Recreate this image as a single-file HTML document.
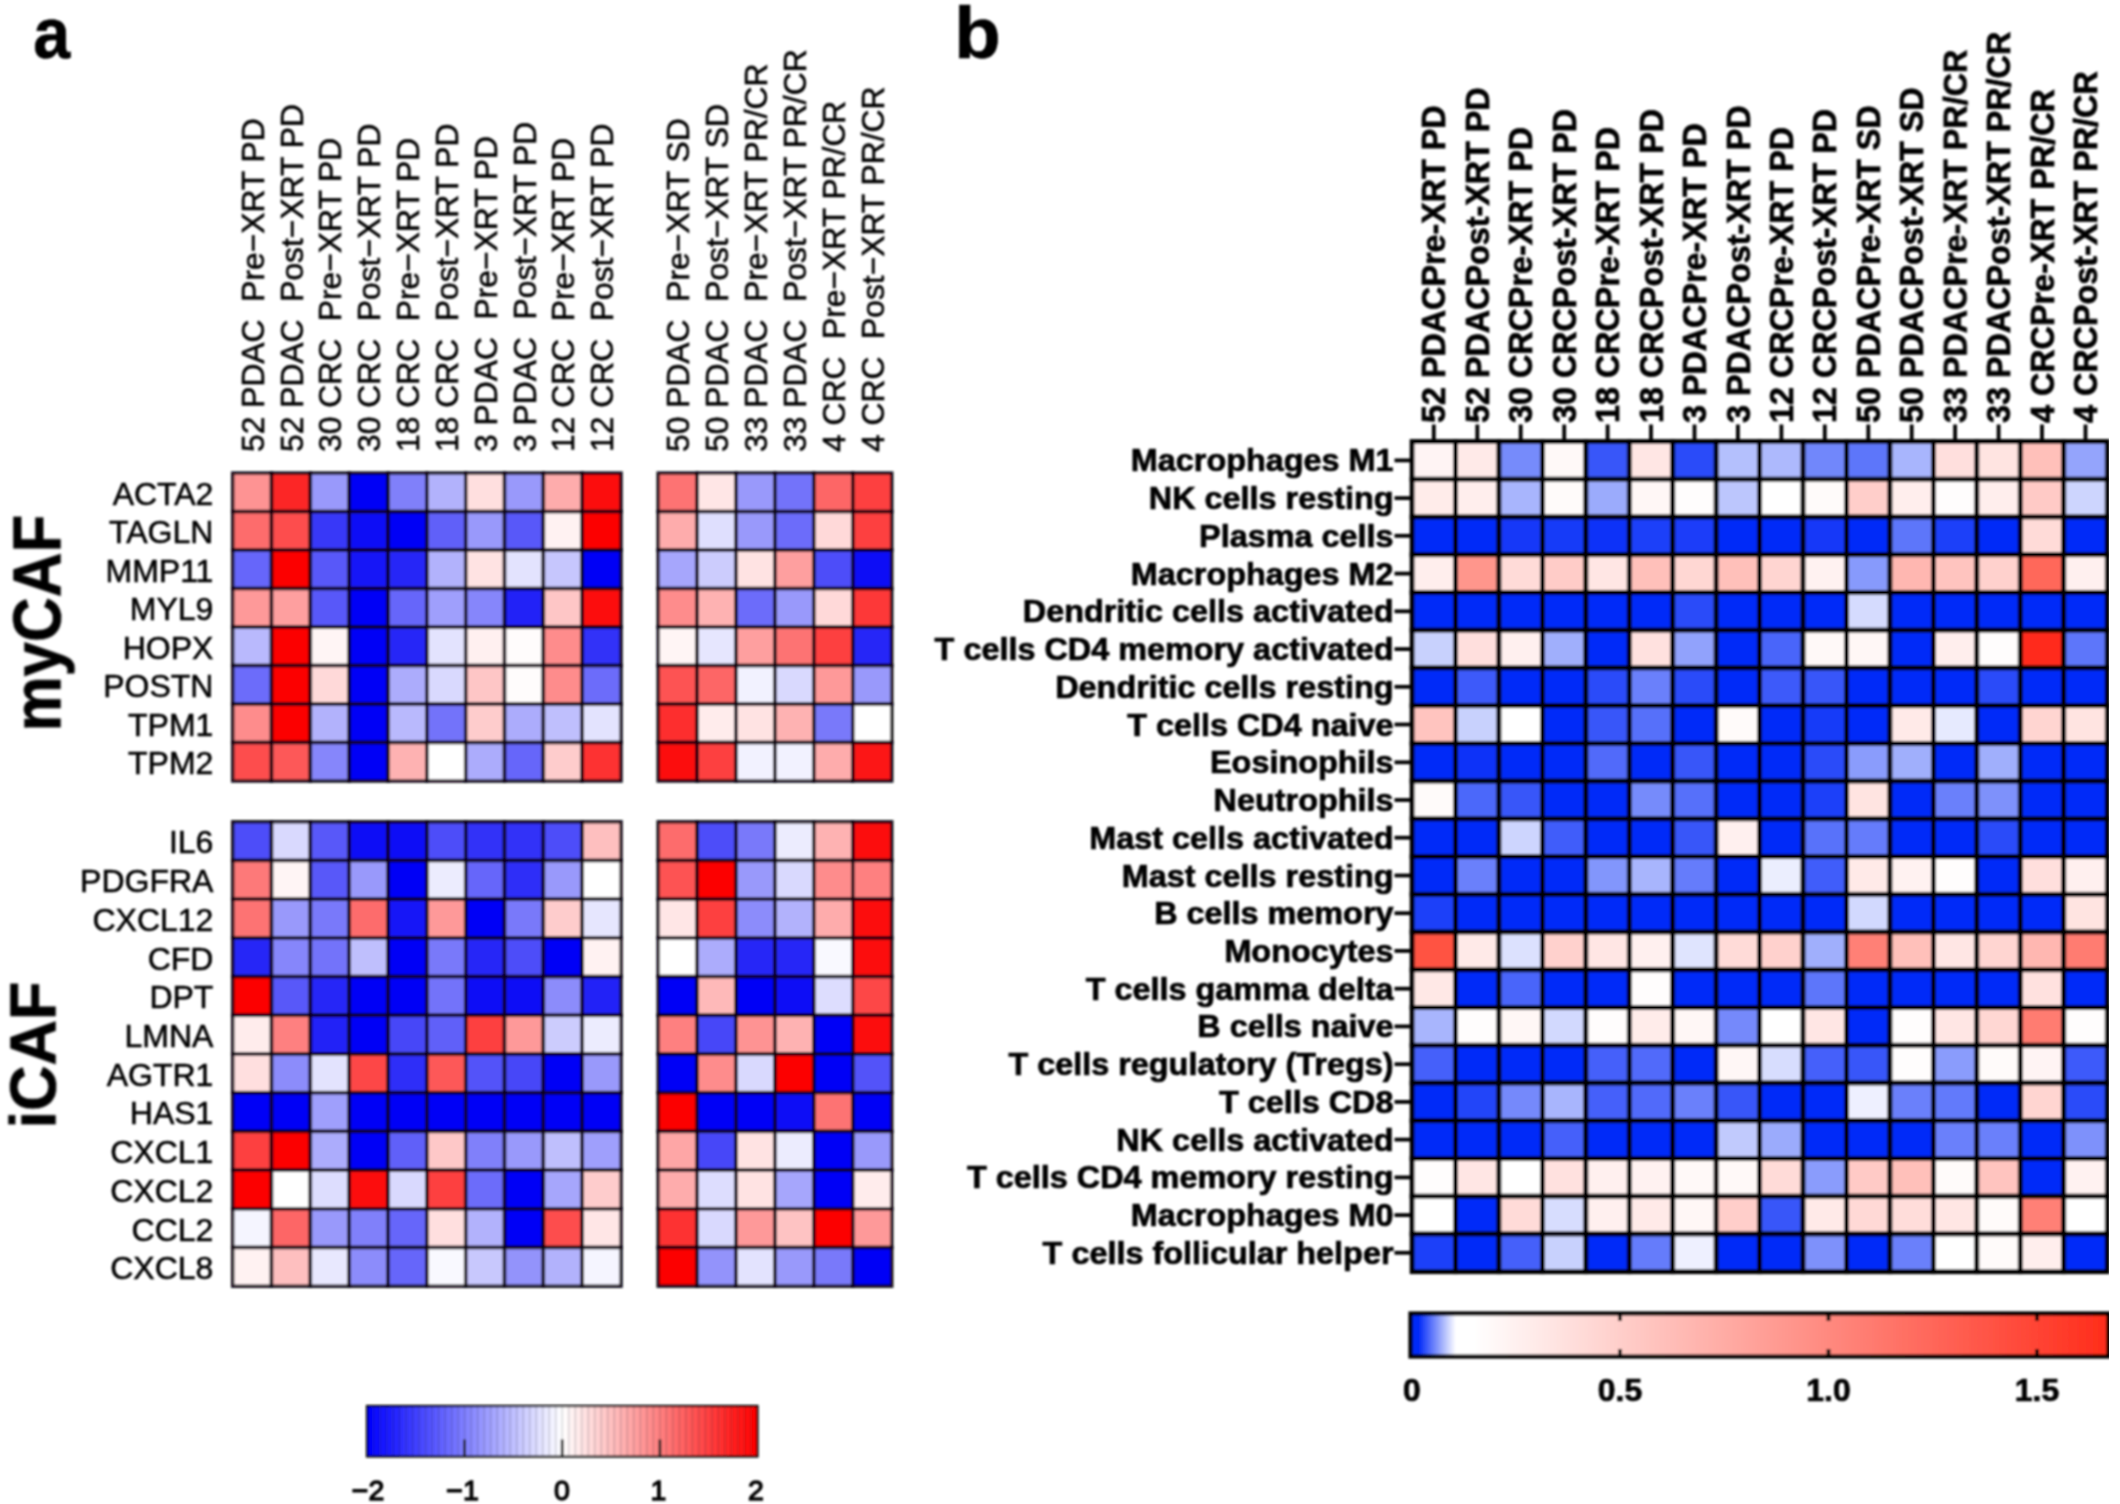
<!DOCTYPE html>
<html lang="en"><head><meta charset="utf-8"><title>Figure</title>
<style>html,body{margin:0;padding:0;background:#fff}body{width:2120px;height:1504px;overflow:hidden}svg{display:block}text{white-space:pre;font-family:"Liberation Sans",Arial,Helvetica,sans-serif;fill:#000}.b{font-weight:bold}.ga rect{stroke:#08000c;stroke-width:3.5;stroke-opacity:0.9}.gb rect{stroke:#000;stroke-width:4.8}text{stroke:#000;stroke-width:0.55}.b{stroke-width:0.7}</style></head><body>
<svg width="2120" height="1504" viewBox="0 0 2120 1504">
<rect x="0" y="0" width="2120" height="1504" fill="#fff"/>
<defs><filter id="bl" x="0" y="0" width="1" height="1"><feGaussianBlur stdDeviation="1.1"/></filter>
<linearGradient id="ga" x1="0" x2="1" y1="0" y2="0"><stop offset="0" stop-color="#0000ff"/><stop offset="0.5" stop-color="#ffffff"/><stop offset="1" stop-color="#ff0000"/></linearGradient>
<linearGradient id="gb" x1="0" x2="1" y1="0" y2="0"><stop offset="0" stop-color="#062cf8"/><stop offset="0.012" stop-color="#062cf8"/><stop offset="0.065" stop-color="#ffffff"/><stop offset="0.09" stop-color="#ffffff"/><stop offset="1" stop-color="#ff2c1a"/></linearGradient>
</defs>
<g filter="url(#bl)">
<text class="b" transform="translate(33.3,58.3) scale(0.875,0.945)" font-size="76">a</text>
<text class="b" transform="translate(954.2,58.2) scale(1,0.95)" font-size="76">b</text>
<g class="ga">
<rect x="232.70" y="473.10" width="38.84" height="38.49" fill="#fe9393"/>
<rect x="271.53" y="473.10" width="38.84" height="38.49" fill="#fc2626"/>
<rect x="310.37" y="473.10" width="38.84" height="38.49" fill="#9999fb"/>
<rect x="349.20" y="473.10" width="38.84" height="38.49" fill="#0000f6"/>
<rect x="388.04" y="473.10" width="38.84" height="38.49" fill="#8080fa"/>
<rect x="426.88" y="473.10" width="38.84" height="38.49" fill="#b2b2fc"/>
<rect x="465.71" y="473.10" width="38.84" height="38.49" fill="#ffdfdf"/>
<rect x="504.55" y="473.10" width="38.84" height="38.49" fill="#9999fb"/>
<rect x="543.38" y="473.10" width="38.84" height="38.49" fill="#feacac"/>
<rect x="582.21" y="473.10" width="38.84" height="38.49" fill="#fc0d0d"/>
<rect x="658.20" y="473.10" width="38.92" height="38.49" fill="#fd7373"/>
<rect x="697.12" y="473.10" width="38.92" height="38.49" fill="#ffe6e6"/>
<rect x="736.04" y="473.10" width="38.92" height="38.49" fill="#9999fb"/>
<rect x="774.96" y="473.10" width="38.92" height="38.49" fill="#7373fa"/>
<rect x="813.88" y="473.10" width="38.92" height="38.49" fill="#fd6666"/>
<rect x="852.80" y="473.10" width="38.92" height="38.49" fill="#fd4040"/>
<rect x="232.70" y="511.59" width="38.84" height="38.49" fill="#fd6c6c"/>
<rect x="271.53" y="511.59" width="38.84" height="38.49" fill="#fd4d4d"/>
<rect x="310.37" y="511.59" width="38.84" height="38.49" fill="#3939f8"/>
<rect x="349.20" y="511.59" width="38.84" height="38.49" fill="#0d0df6"/>
<rect x="388.04" y="511.59" width="38.84" height="38.49" fill="#0606f6"/>
<rect x="426.88" y="511.59" width="38.84" height="38.49" fill="#6060f9"/>
<rect x="465.71" y="511.59" width="38.84" height="38.49" fill="#9999fb"/>
<rect x="504.55" y="511.59" width="38.84" height="38.49" fill="#5959f9"/>
<rect x="543.38" y="511.59" width="38.84" height="38.49" fill="#fff2f2"/>
<rect x="582.21" y="511.59" width="38.84" height="38.49" fill="#fc0606"/>
<rect x="658.20" y="511.59" width="38.92" height="38.49" fill="#feacac"/>
<rect x="697.12" y="511.59" width="38.92" height="38.49" fill="#dfdffe"/>
<rect x="736.04" y="511.59" width="38.92" height="38.49" fill="#9999fb"/>
<rect x="774.96" y="511.59" width="38.92" height="38.49" fill="#6c6cfa"/>
<rect x="813.88" y="511.59" width="38.92" height="38.49" fill="#ffd9d9"/>
<rect x="852.80" y="511.59" width="38.92" height="38.49" fill="#fd4040"/>
<rect x="232.70" y="550.08" width="38.84" height="38.49" fill="#6666fa"/>
<rect x="271.53" y="550.08" width="38.84" height="38.49" fill="#fc0000"/>
<rect x="310.37" y="550.08" width="38.84" height="38.49" fill="#5959f9"/>
<rect x="349.20" y="550.08" width="38.84" height="38.49" fill="#1919f7"/>
<rect x="388.04" y="550.08" width="38.84" height="38.49" fill="#2626f7"/>
<rect x="426.88" y="550.08" width="38.84" height="38.49" fill="#b2b2fc"/>
<rect x="465.71" y="550.08" width="38.84" height="38.49" fill="#ffe3e3"/>
<rect x="504.55" y="550.08" width="38.84" height="38.49" fill="#e3e3fe"/>
<rect x="543.38" y="550.08" width="38.84" height="38.49" fill="#c6c6fd"/>
<rect x="582.21" y="550.08" width="38.84" height="38.49" fill="#0000f6"/>
<rect x="658.20" y="550.08" width="38.92" height="38.49" fill="#a6a6fc"/>
<rect x="697.12" y="550.08" width="38.92" height="38.49" fill="#ccccfd"/>
<rect x="736.04" y="550.08" width="38.92" height="38.49" fill="#ffe3e3"/>
<rect x="774.96" y="550.08" width="38.92" height="38.49" fill="#fe9f9f"/>
<rect x="813.88" y="550.08" width="38.92" height="38.49" fill="#4d4df9"/>
<rect x="852.80" y="550.08" width="38.92" height="38.49" fill="#0d0df6"/>
<rect x="232.70" y="588.57" width="38.84" height="38.49" fill="#fe9999"/>
<rect x="271.53" y="588.57" width="38.84" height="38.49" fill="#fe9f9f"/>
<rect x="310.37" y="588.57" width="38.84" height="38.49" fill="#5959f9"/>
<rect x="349.20" y="588.57" width="38.84" height="38.49" fill="#0606f6"/>
<rect x="388.04" y="588.57" width="38.84" height="38.49" fill="#6666fa"/>
<rect x="426.88" y="588.57" width="38.84" height="38.49" fill="#9f9ffc"/>
<rect x="465.71" y="588.57" width="38.84" height="38.49" fill="#8686fb"/>
<rect x="504.55" y="588.57" width="38.84" height="38.49" fill="#2020f7"/>
<rect x="543.38" y="588.57" width="38.84" height="38.49" fill="#fec6c6"/>
<rect x="582.21" y="588.57" width="38.84" height="38.49" fill="#fc0d0d"/>
<rect x="658.20" y="588.57" width="38.92" height="38.49" fill="#fe8c8c"/>
<rect x="697.12" y="588.57" width="38.92" height="38.49" fill="#feb2b2"/>
<rect x="736.04" y="588.57" width="38.92" height="38.49" fill="#6c6cfa"/>
<rect x="774.96" y="588.57" width="38.92" height="38.49" fill="#9999fb"/>
<rect x="813.88" y="588.57" width="38.92" height="38.49" fill="#ffd9d9"/>
<rect x="852.80" y="588.57" width="38.92" height="38.49" fill="#fd3939"/>
<rect x="232.70" y="627.06" width="38.84" height="38.49" fill="#b9b9fd"/>
<rect x="271.53" y="627.06" width="38.84" height="38.49" fill="#fc0000"/>
<rect x="310.37" y="627.06" width="38.84" height="38.49" fill="#fff5f5"/>
<rect x="349.20" y="627.06" width="38.84" height="38.49" fill="#0606f6"/>
<rect x="388.04" y="627.06" width="38.84" height="38.49" fill="#2626f7"/>
<rect x="426.88" y="627.06" width="38.84" height="38.49" fill="#e3e3fe"/>
<rect x="465.71" y="627.06" width="38.84" height="38.49" fill="#fff0f0"/>
<rect x="504.55" y="627.06" width="38.84" height="38.49" fill="#fffcfc"/>
<rect x="543.38" y="627.06" width="38.84" height="38.49" fill="#fe8c8c"/>
<rect x="582.21" y="627.06" width="38.84" height="38.49" fill="#3333f8"/>
<rect x="658.20" y="627.06" width="38.92" height="38.49" fill="#fff5f5"/>
<rect x="697.12" y="627.06" width="38.92" height="38.49" fill="#e6e6fe"/>
<rect x="736.04" y="627.06" width="38.92" height="38.49" fill="#fe9f9f"/>
<rect x="774.96" y="627.06" width="38.92" height="38.49" fill="#fd7373"/>
<rect x="813.88" y="627.06" width="38.92" height="38.49" fill="#fd4040"/>
<rect x="852.80" y="627.06" width="38.92" height="38.49" fill="#2626f7"/>
<rect x="232.70" y="665.55" width="38.84" height="38.49" fill="#6c6cfa"/>
<rect x="271.53" y="665.55" width="38.84" height="38.49" fill="#fc0000"/>
<rect x="310.37" y="665.55" width="38.84" height="38.49" fill="#ffd9d9"/>
<rect x="349.20" y="665.55" width="38.84" height="38.49" fill="#0606f6"/>
<rect x="388.04" y="665.55" width="38.84" height="38.49" fill="#acacfc"/>
<rect x="426.88" y="665.55" width="38.84" height="38.49" fill="#d9d9fe"/>
<rect x="465.71" y="665.55" width="38.84" height="38.49" fill="#fec6c6"/>
<rect x="504.55" y="665.55" width="38.84" height="38.49" fill="#fffcfc"/>
<rect x="543.38" y="665.55" width="38.84" height="38.49" fill="#fe8c8c"/>
<rect x="582.21" y="665.55" width="38.84" height="38.49" fill="#6c6cfa"/>
<rect x="658.20" y="665.55" width="38.92" height="38.49" fill="#fd5353"/>
<rect x="697.12" y="665.55" width="38.92" height="38.49" fill="#fd6666"/>
<rect x="736.04" y="665.55" width="38.92" height="38.49" fill="#f2f2ff"/>
<rect x="774.96" y="665.55" width="38.92" height="38.49" fill="#d9d9fe"/>
<rect x="813.88" y="665.55" width="38.92" height="38.49" fill="#fe9999"/>
<rect x="852.80" y="665.55" width="38.92" height="38.49" fill="#9999fb"/>
<rect x="232.70" y="704.04" width="38.84" height="38.49" fill="#fe8c8c"/>
<rect x="271.53" y="704.04" width="38.84" height="38.49" fill="#fc0000"/>
<rect x="310.37" y="704.04" width="38.84" height="38.49" fill="#b2b2fc"/>
<rect x="349.20" y="704.04" width="38.84" height="38.49" fill="#0606f6"/>
<rect x="388.04" y="704.04" width="38.84" height="38.49" fill="#b9b9fd"/>
<rect x="426.88" y="704.04" width="38.84" height="38.49" fill="#7373fa"/>
<rect x="465.71" y="704.04" width="38.84" height="38.49" fill="#fecccc"/>
<rect x="504.55" y="704.04" width="38.84" height="38.49" fill="#acacfc"/>
<rect x="543.38" y="704.04" width="38.84" height="38.49" fill="#bfbffd"/>
<rect x="582.21" y="704.04" width="38.84" height="38.49" fill="#e3e3fe"/>
<rect x="658.20" y="704.04" width="38.92" height="38.49" fill="#fd2d2d"/>
<rect x="697.12" y="704.04" width="38.92" height="38.49" fill="#ffecec"/>
<rect x="736.04" y="704.04" width="38.92" height="38.49" fill="#ffe3e3"/>
<rect x="774.96" y="704.04" width="38.92" height="38.49" fill="#feb2b2"/>
<rect x="813.88" y="704.04" width="38.92" height="38.49" fill="#7979fa"/>
<rect x="852.80" y="704.04" width="38.92" height="38.49" fill="#ffffff"/>
<rect x="232.70" y="742.53" width="38.84" height="38.49" fill="#fd4d4d"/>
<rect x="271.53" y="742.53" width="38.84" height="38.49" fill="#fd5959"/>
<rect x="310.37" y="742.53" width="38.84" height="38.49" fill="#8686fb"/>
<rect x="349.20" y="742.53" width="38.84" height="38.49" fill="#0606f6"/>
<rect x="388.04" y="742.53" width="38.84" height="38.49" fill="#feb2b2"/>
<rect x="426.88" y="742.53" width="38.84" height="38.49" fill="#ffffff"/>
<rect x="465.71" y="742.53" width="38.84" height="38.49" fill="#acacfc"/>
<rect x="504.55" y="742.53" width="38.84" height="38.49" fill="#6666fa"/>
<rect x="543.38" y="742.53" width="38.84" height="38.49" fill="#fecccc"/>
<rect x="582.21" y="742.53" width="38.84" height="38.49" fill="#fd3333"/>
<rect x="658.20" y="742.53" width="38.92" height="38.49" fill="#fc0d0d"/>
<rect x="697.12" y="742.53" width="38.92" height="38.49" fill="#fd4040"/>
<rect x="736.04" y="742.53" width="38.92" height="38.49" fill="#f2f2ff"/>
<rect x="774.96" y="742.53" width="38.92" height="38.49" fill="#f2f2ff"/>
<rect x="813.88" y="742.53" width="38.92" height="38.49" fill="#feacac"/>
<rect x="852.80" y="742.53" width="38.92" height="38.49" fill="#fc1313"/>
<rect x="232.70" y="821.80" width="38.84" height="38.70" fill="#4d4df9"/>
<rect x="271.53" y="821.80" width="38.84" height="38.70" fill="#d9d9fe"/>
<rect x="310.37" y="821.80" width="38.84" height="38.70" fill="#5959f9"/>
<rect x="349.20" y="821.80" width="38.84" height="38.70" fill="#0d0df6"/>
<rect x="388.04" y="821.80" width="38.84" height="38.70" fill="#0d0df6"/>
<rect x="426.88" y="821.80" width="38.84" height="38.70" fill="#4d4df9"/>
<rect x="465.71" y="821.80" width="38.84" height="38.70" fill="#3333f8"/>
<rect x="504.55" y="821.80" width="38.84" height="38.70" fill="#3333f8"/>
<rect x="543.38" y="821.80" width="38.84" height="38.70" fill="#4d4df9"/>
<rect x="582.21" y="821.80" width="38.84" height="38.70" fill="#febfbf"/>
<rect x="658.20" y="821.80" width="38.92" height="38.70" fill="#fd6c6c"/>
<rect x="697.12" y="821.80" width="38.92" height="38.70" fill="#4d4df9"/>
<rect x="736.04" y="821.80" width="38.92" height="38.70" fill="#7979fa"/>
<rect x="774.96" y="821.80" width="38.92" height="38.70" fill="#ececfe"/>
<rect x="813.88" y="821.80" width="38.92" height="38.70" fill="#feb2b2"/>
<rect x="852.80" y="821.80" width="38.92" height="38.70" fill="#fc0d0d"/>
<rect x="232.70" y="860.50" width="38.84" height="38.70" fill="#fd7979"/>
<rect x="271.53" y="860.50" width="38.84" height="38.70" fill="#fff5f5"/>
<rect x="310.37" y="860.50" width="38.84" height="38.70" fill="#5959f9"/>
<rect x="349.20" y="860.50" width="38.84" height="38.70" fill="#9999fb"/>
<rect x="388.04" y="860.50" width="38.84" height="38.70" fill="#0606f6"/>
<rect x="426.88" y="860.50" width="38.84" height="38.70" fill="#ececfe"/>
<rect x="465.71" y="860.50" width="38.84" height="38.70" fill="#6666fa"/>
<rect x="504.55" y="860.50" width="38.84" height="38.70" fill="#2d2df8"/>
<rect x="543.38" y="860.50" width="38.84" height="38.70" fill="#9999fb"/>
<rect x="582.21" y="860.50" width="38.84" height="38.70" fill="#ffffff"/>
<rect x="658.20" y="860.50" width="38.92" height="38.70" fill="#fd5353"/>
<rect x="697.12" y="860.50" width="38.92" height="38.70" fill="#fc0606"/>
<rect x="736.04" y="860.50" width="38.92" height="38.70" fill="#9999fb"/>
<rect x="774.96" y="860.50" width="38.92" height="38.70" fill="#d9d9fe"/>
<rect x="813.88" y="860.50" width="38.92" height="38.70" fill="#fe8c8c"/>
<rect x="852.80" y="860.50" width="38.92" height="38.70" fill="#fe8080"/>
<rect x="232.70" y="899.20" width="38.84" height="38.70" fill="#fd7373"/>
<rect x="271.53" y="899.20" width="38.84" height="38.70" fill="#9999fb"/>
<rect x="310.37" y="899.20" width="38.84" height="38.70" fill="#7979fa"/>
<rect x="349.20" y="899.20" width="38.84" height="38.70" fill="#fd6c6c"/>
<rect x="388.04" y="899.20" width="38.84" height="38.70" fill="#1313f7"/>
<rect x="426.88" y="899.20" width="38.84" height="38.70" fill="#fe9999"/>
<rect x="465.71" y="899.20" width="38.84" height="38.70" fill="#0606f6"/>
<rect x="504.55" y="899.20" width="38.84" height="38.70" fill="#7979fa"/>
<rect x="543.38" y="899.20" width="38.84" height="38.70" fill="#fecccc"/>
<rect x="582.21" y="899.20" width="38.84" height="38.70" fill="#e6e6fe"/>
<rect x="658.20" y="899.20" width="38.92" height="38.70" fill="#ffe6e6"/>
<rect x="697.12" y="899.20" width="38.92" height="38.70" fill="#fd4040"/>
<rect x="736.04" y="899.20" width="38.92" height="38.70" fill="#8c8cfb"/>
<rect x="774.96" y="899.20" width="38.92" height="38.70" fill="#b2b2fc"/>
<rect x="813.88" y="899.20" width="38.92" height="38.70" fill="#feacac"/>
<rect x="852.80" y="899.20" width="38.92" height="38.70" fill="#fc0d0d"/>
<rect x="232.70" y="937.90" width="38.84" height="38.70" fill="#2626f7"/>
<rect x="271.53" y="937.90" width="38.84" height="38.70" fill="#8686fb"/>
<rect x="310.37" y="937.90" width="38.84" height="38.70" fill="#7373fa"/>
<rect x="349.20" y="937.90" width="38.84" height="38.70" fill="#bfbffd"/>
<rect x="388.04" y="937.90" width="38.84" height="38.70" fill="#0606f6"/>
<rect x="426.88" y="937.90" width="38.84" height="38.70" fill="#7979fa"/>
<rect x="465.71" y="937.90" width="38.84" height="38.70" fill="#2626f7"/>
<rect x="504.55" y="937.90" width="38.84" height="38.70" fill="#4d4df9"/>
<rect x="543.38" y="937.90" width="38.84" height="38.70" fill="#0000f6"/>
<rect x="582.21" y="937.90" width="38.84" height="38.70" fill="#fff2f2"/>
<rect x="658.20" y="937.90" width="38.92" height="38.70" fill="#ffffff"/>
<rect x="697.12" y="937.90" width="38.92" height="38.70" fill="#acacfc"/>
<rect x="736.04" y="937.90" width="38.92" height="38.70" fill="#2626f7"/>
<rect x="774.96" y="937.90" width="38.92" height="38.70" fill="#2626f7"/>
<rect x="813.88" y="937.90" width="38.92" height="38.70" fill="#f9f9ff"/>
<rect x="852.80" y="937.90" width="38.92" height="38.70" fill="#fc0d0d"/>
<rect x="232.70" y="976.60" width="38.84" height="38.70" fill="#fc0000"/>
<rect x="271.53" y="976.60" width="38.84" height="38.70" fill="#5959f9"/>
<rect x="310.37" y="976.60" width="38.84" height="38.70" fill="#2626f7"/>
<rect x="349.20" y="976.60" width="38.84" height="38.70" fill="#0606f6"/>
<rect x="388.04" y="976.60" width="38.84" height="38.70" fill="#0606f6"/>
<rect x="426.88" y="976.60" width="38.84" height="38.70" fill="#7373fa"/>
<rect x="465.71" y="976.60" width="38.84" height="38.70" fill="#0d0df6"/>
<rect x="504.55" y="976.60" width="38.84" height="38.70" fill="#0d0df6"/>
<rect x="543.38" y="976.60" width="38.84" height="38.70" fill="#8c8cfb"/>
<rect x="582.21" y="976.60" width="38.84" height="38.70" fill="#2020f7"/>
<rect x="658.20" y="976.60" width="38.92" height="38.70" fill="#0000f6"/>
<rect x="697.12" y="976.60" width="38.92" height="38.70" fill="#feb9b9"/>
<rect x="736.04" y="976.60" width="38.92" height="38.70" fill="#0606f6"/>
<rect x="774.96" y="976.60" width="38.92" height="38.70" fill="#0d0df6"/>
<rect x="813.88" y="976.60" width="38.92" height="38.70" fill="#ddddfe"/>
<rect x="852.80" y="976.60" width="38.92" height="38.70" fill="#fd4646"/>
<rect x="232.70" y="1015.30" width="38.84" height="38.70" fill="#ffecec"/>
<rect x="271.53" y="1015.30" width="38.84" height="38.70" fill="#fe8080"/>
<rect x="310.37" y="1015.30" width="38.84" height="38.70" fill="#2020f7"/>
<rect x="349.20" y="1015.30" width="38.84" height="38.70" fill="#0606f6"/>
<rect x="388.04" y="1015.30" width="38.84" height="38.70" fill="#4646f8"/>
<rect x="426.88" y="1015.30" width="38.84" height="38.70" fill="#6060f9"/>
<rect x="465.71" y="1015.30" width="38.84" height="38.70" fill="#fd4040"/>
<rect x="504.55" y="1015.30" width="38.84" height="38.70" fill="#fe9999"/>
<rect x="543.38" y="1015.30" width="38.84" height="38.70" fill="#ccccfd"/>
<rect x="582.21" y="1015.30" width="38.84" height="38.70" fill="#ececfe"/>
<rect x="658.20" y="1015.30" width="38.92" height="38.70" fill="#fe8080"/>
<rect x="697.12" y="1015.30" width="38.92" height="38.70" fill="#4646f8"/>
<rect x="736.04" y="1015.30" width="38.92" height="38.70" fill="#fe9393"/>
<rect x="774.96" y="1015.30" width="38.92" height="38.70" fill="#feb2b2"/>
<rect x="813.88" y="1015.30" width="38.92" height="38.70" fill="#0000f6"/>
<rect x="852.80" y="1015.30" width="38.92" height="38.70" fill="#fc0d0d"/>
<rect x="232.70" y="1054.00" width="38.84" height="38.70" fill="#ffdfdf"/>
<rect x="271.53" y="1054.00" width="38.84" height="38.70" fill="#8c8cfb"/>
<rect x="310.37" y="1054.00" width="38.84" height="38.70" fill="#e3e3fe"/>
<rect x="349.20" y="1054.00" width="38.84" height="38.70" fill="#fd4646"/>
<rect x="388.04" y="1054.00" width="38.84" height="38.70" fill="#2d2df8"/>
<rect x="426.88" y="1054.00" width="38.84" height="38.70" fill="#fd5959"/>
<rect x="465.71" y="1054.00" width="38.84" height="38.70" fill="#5353f9"/>
<rect x="504.55" y="1054.00" width="38.84" height="38.70" fill="#4646f8"/>
<rect x="543.38" y="1054.00" width="38.84" height="38.70" fill="#0606f6"/>
<rect x="582.21" y="1054.00" width="38.84" height="38.70" fill="#9999fb"/>
<rect x="658.20" y="1054.00" width="38.92" height="38.70" fill="#0000f6"/>
<rect x="697.12" y="1054.00" width="38.92" height="38.70" fill="#fe8c8c"/>
<rect x="736.04" y="1054.00" width="38.92" height="38.70" fill="#d9d9fe"/>
<rect x="774.96" y="1054.00" width="38.92" height="38.70" fill="#fc0606"/>
<rect x="813.88" y="1054.00" width="38.92" height="38.70" fill="#0606f6"/>
<rect x="852.80" y="1054.00" width="38.92" height="38.70" fill="#5353f9"/>
<rect x="232.70" y="1092.70" width="38.84" height="38.70" fill="#0000f6"/>
<rect x="271.53" y="1092.70" width="38.84" height="38.70" fill="#0606f6"/>
<rect x="310.37" y="1092.70" width="38.84" height="38.70" fill="#9f9ffc"/>
<rect x="349.20" y="1092.70" width="38.84" height="38.70" fill="#0000f6"/>
<rect x="388.04" y="1092.70" width="38.84" height="38.70" fill="#0606f6"/>
<rect x="426.88" y="1092.70" width="38.84" height="38.70" fill="#0606f6"/>
<rect x="465.71" y="1092.70" width="38.84" height="38.70" fill="#0606f6"/>
<rect x="504.55" y="1092.70" width="38.84" height="38.70" fill="#0606f6"/>
<rect x="543.38" y="1092.70" width="38.84" height="38.70" fill="#0000f6"/>
<rect x="582.21" y="1092.70" width="38.84" height="38.70" fill="#0606f6"/>
<rect x="658.20" y="1092.70" width="38.92" height="38.70" fill="#fc0606"/>
<rect x="697.12" y="1092.70" width="38.92" height="38.70" fill="#0606f6"/>
<rect x="736.04" y="1092.70" width="38.92" height="38.70" fill="#0606f6"/>
<rect x="774.96" y="1092.70" width="38.92" height="38.70" fill="#0d0df6"/>
<rect x="813.88" y="1092.70" width="38.92" height="38.70" fill="#fd7373"/>
<rect x="852.80" y="1092.70" width="38.92" height="38.70" fill="#0606f6"/>
<rect x="232.70" y="1131.40" width="38.84" height="38.70" fill="#fd4040"/>
<rect x="271.53" y="1131.40" width="38.84" height="38.70" fill="#fc0606"/>
<rect x="310.37" y="1131.40" width="38.84" height="38.70" fill="#acacfc"/>
<rect x="349.20" y="1131.40" width="38.84" height="38.70" fill="#0000f6"/>
<rect x="388.04" y="1131.40" width="38.84" height="38.70" fill="#6060f9"/>
<rect x="426.88" y="1131.40" width="38.84" height="38.70" fill="#fec8c8"/>
<rect x="465.71" y="1131.40" width="38.84" height="38.70" fill="#8080fa"/>
<rect x="504.55" y="1131.40" width="38.84" height="38.70" fill="#9999fb"/>
<rect x="543.38" y="1131.40" width="38.84" height="38.70" fill="#bfbffd"/>
<rect x="582.21" y="1131.40" width="38.84" height="38.70" fill="#9f9ffc"/>
<rect x="658.20" y="1131.40" width="38.92" height="38.70" fill="#fea6a6"/>
<rect x="697.12" y="1131.40" width="38.92" height="38.70" fill="#4646f8"/>
<rect x="736.04" y="1131.40" width="38.92" height="38.70" fill="#ffe3e3"/>
<rect x="774.96" y="1131.40" width="38.92" height="38.70" fill="#ececfe"/>
<rect x="813.88" y="1131.40" width="38.92" height="38.70" fill="#0606f6"/>
<rect x="852.80" y="1131.40" width="38.92" height="38.70" fill="#9999fb"/>
<rect x="232.70" y="1170.10" width="38.84" height="38.70" fill="#fc0606"/>
<rect x="271.53" y="1170.10" width="38.84" height="38.70" fill="#ffffff"/>
<rect x="310.37" y="1170.10" width="38.84" height="38.70" fill="#ddddfe"/>
<rect x="349.20" y="1170.10" width="38.84" height="38.70" fill="#fc0d0d"/>
<rect x="388.04" y="1170.10" width="38.84" height="38.70" fill="#d9d9fe"/>
<rect x="426.88" y="1170.10" width="38.84" height="38.70" fill="#fd4040"/>
<rect x="465.71" y="1170.10" width="38.84" height="38.70" fill="#6c6cfa"/>
<rect x="504.55" y="1170.10" width="38.84" height="38.70" fill="#0000f6"/>
<rect x="543.38" y="1170.10" width="38.84" height="38.70" fill="#a6a6fc"/>
<rect x="582.21" y="1170.10" width="38.84" height="38.70" fill="#fecccc"/>
<rect x="658.20" y="1170.10" width="38.92" height="38.70" fill="#feacac"/>
<rect x="697.12" y="1170.10" width="38.92" height="38.70" fill="#ddddfe"/>
<rect x="736.04" y="1170.10" width="38.92" height="38.70" fill="#ffe3e3"/>
<rect x="774.96" y="1170.10" width="38.92" height="38.70" fill="#a6a6fc"/>
<rect x="813.88" y="1170.10" width="38.92" height="38.70" fill="#0606f6"/>
<rect x="852.80" y="1170.10" width="38.92" height="38.70" fill="#ffecec"/>
<rect x="232.70" y="1208.80" width="38.84" height="38.70" fill="#f5f5ff"/>
<rect x="271.53" y="1208.80" width="38.84" height="38.70" fill="#fd6666"/>
<rect x="310.37" y="1208.80" width="38.84" height="38.70" fill="#9999fb"/>
<rect x="349.20" y="1208.80" width="38.84" height="38.70" fill="#8080fa"/>
<rect x="388.04" y="1208.80" width="38.84" height="38.70" fill="#6666fa"/>
<rect x="426.88" y="1208.80" width="38.84" height="38.70" fill="#ffdfdf"/>
<rect x="465.71" y="1208.80" width="38.84" height="38.70" fill="#b2b2fc"/>
<rect x="504.55" y="1208.80" width="38.84" height="38.70" fill="#0000f6"/>
<rect x="543.38" y="1208.80" width="38.84" height="38.70" fill="#fd4d4d"/>
<rect x="582.21" y="1208.80" width="38.84" height="38.70" fill="#ffe6e6"/>
<rect x="658.20" y="1208.80" width="38.92" height="38.70" fill="#fd3333"/>
<rect x="697.12" y="1208.80" width="38.92" height="38.70" fill="#d9d9fe"/>
<rect x="736.04" y="1208.80" width="38.92" height="38.70" fill="#fe9999"/>
<rect x="774.96" y="1208.80" width="38.92" height="38.70" fill="#fec3c3"/>
<rect x="813.88" y="1208.80" width="38.92" height="38.70" fill="#fc0606"/>
<rect x="852.80" y="1208.80" width="38.92" height="38.70" fill="#fe9999"/>
<rect x="232.70" y="1247.50" width="38.84" height="38.70" fill="#fff2f2"/>
<rect x="271.53" y="1247.50" width="38.84" height="38.70" fill="#febfbf"/>
<rect x="310.37" y="1247.50" width="38.84" height="38.70" fill="#e8e8fe"/>
<rect x="349.20" y="1247.50" width="38.84" height="38.70" fill="#8c8cfb"/>
<rect x="388.04" y="1247.50" width="38.84" height="38.70" fill="#6666fa"/>
<rect x="426.88" y="1247.50" width="38.84" height="38.70" fill="#f9f9ff"/>
<rect x="465.71" y="1247.50" width="38.84" height="38.70" fill="#c8c8fd"/>
<rect x="504.55" y="1247.50" width="38.84" height="38.70" fill="#9393fb"/>
<rect x="543.38" y="1247.50" width="38.84" height="38.70" fill="#b2b2fc"/>
<rect x="582.21" y="1247.50" width="38.84" height="38.70" fill="#f5f5ff"/>
<rect x="658.20" y="1247.50" width="38.92" height="38.70" fill="#fc0606"/>
<rect x="697.12" y="1247.50" width="38.92" height="38.70" fill="#9393fb"/>
<rect x="736.04" y="1247.50" width="38.92" height="38.70" fill="#e3e3fe"/>
<rect x="774.96" y="1247.50" width="38.92" height="38.70" fill="#9999fb"/>
<rect x="813.88" y="1247.50" width="38.92" height="38.70" fill="#7979fa"/>
<rect x="852.80" y="1247.50" width="38.92" height="38.70" fill="#0606f6"/>
</g>
<text x="213.4" y="504.6" font-size="32" text-anchor="end">ACTA2</text>
<text x="213.4" y="543.1" font-size="32" text-anchor="end">TAGLN</text>
<text x="213.4" y="581.6" font-size="32" text-anchor="end">MMP11</text>
<text x="213.4" y="620.1" font-size="32" text-anchor="end">MYL9</text>
<text x="213.4" y="658.6" font-size="32" text-anchor="end">HOPX</text>
<text x="213.4" y="697.1" font-size="32" text-anchor="end">POSTN</text>
<text x="213.4" y="735.6" font-size="32" text-anchor="end">TPM1</text>
<text x="213.4" y="774.1" font-size="32" text-anchor="end">TPM2</text>
<text x="213.4" y="853.4" font-size="32" text-anchor="end">IL6</text>
<text x="213.4" y="892.1" font-size="32" text-anchor="end">PDGFRA</text>
<text x="213.4" y="930.8" font-size="32" text-anchor="end">CXCL12</text>
<text x="213.4" y="969.5" font-size="32" text-anchor="end">CFD</text>
<text x="213.4" y="1008.2" font-size="32" text-anchor="end">DPT</text>
<text x="213.4" y="1047.0" font-size="32" text-anchor="end">LMNA</text>
<text x="213.4" y="1085.6" font-size="32" text-anchor="end">AGTR1</text>
<text x="213.4" y="1124.3" font-size="32" text-anchor="end">HAS1</text>
<text x="213.4" y="1163.0" font-size="32" text-anchor="end">CXCL1</text>
<text x="213.4" y="1201.8" font-size="32" text-anchor="end">CXCL2</text>
<text x="213.4" y="1240.5" font-size="32" text-anchor="end">CCL2</text>
<text x="213.4" y="1279.1" font-size="32" text-anchor="end">CXCL8</text>
<text transform="translate(263.6,452) rotate(-90)" font-size="31.8" xml:space="preserve">52 PDAC  Pre−XRT PD</text>
<text transform="translate(302.5,452) rotate(-90)" font-size="31.8" xml:space="preserve">52 PDAC  Post−XRT PD</text>
<text transform="translate(341.3,452) rotate(-90)" font-size="31.8" xml:space="preserve">30 CRC  Pre−XRT PD</text>
<text transform="translate(380.1,452) rotate(-90)" font-size="31.8" xml:space="preserve">30 CRC  Post−XRT PD</text>
<text transform="translate(419.0,452) rotate(-90)" font-size="31.8" xml:space="preserve">18 CRC  Pre−XRT PD</text>
<text transform="translate(457.8,452) rotate(-90)" font-size="31.8" xml:space="preserve">18 CRC  Post−XRT PD</text>
<text transform="translate(496.6,452) rotate(-90)" font-size="31.8" xml:space="preserve">3 PDAC  Pre−XRT PD</text>
<text transform="translate(535.5,452) rotate(-90)" font-size="31.8" xml:space="preserve">3 PDAC  Post−XRT PD</text>
<text transform="translate(574.3,452) rotate(-90)" font-size="31.8" xml:space="preserve">12 CRC  Pre−XRT PD</text>
<text transform="translate(613.1,452) rotate(-90)" font-size="31.8" xml:space="preserve">12 CRC  Post−XRT PD</text>
<text transform="translate(689.2,452) rotate(-90)" font-size="31.8" xml:space="preserve">50 PDAC  Pre−XRT SD</text>
<text transform="translate(728.1,452) rotate(-90)" font-size="31.8" xml:space="preserve">50 PDAC  Post−XRT SD</text>
<text transform="translate(767.0,452) rotate(-90)" font-size="31.8" xml:space="preserve">33 PDAC  Pre−XRT PR/CR</text>
<text transform="translate(805.9,452) rotate(-90)" font-size="31.8" xml:space="preserve">33 PDAC  Post−XRT PR/CR</text>
<text transform="translate(844.8,452) rotate(-90)" font-size="31.8" xml:space="preserve">4 CRC  Pre−XRT PR/CR</text>
<text transform="translate(883.8,452) rotate(-90)" font-size="31.8" xml:space="preserve">4 CRC  Post−XRT PR/CR</text>
<text class="b" transform="translate(60.5,731.5) rotate(-90)" font-size="68" textLength="217" lengthAdjust="spacingAndGlyphs">myCAF</text>
<text class="b" transform="translate(55.5,1128.5) rotate(-90)" font-size="65" textLength="147" lengthAdjust="spacingAndGlyphs">iCAF</text>
<rect x="367" y="1406" width="390.5" height="50.5" fill="url(#ga)" stroke="#111" stroke-width="2.3"/>
<line x1="373.5" x2="373.5" y1="1406.5" y2="1455" stroke="#223" stroke-width="1.2" opacity="0.22"/>
<line x1="380.0" x2="380.0" y1="1406.5" y2="1455" stroke="#223" stroke-width="1.2" opacity="0.22"/>
<line x1="386.5" x2="386.5" y1="1406.5" y2="1455" stroke="#223" stroke-width="1.2" opacity="0.22"/>
<line x1="393.0" x2="393.0" y1="1406.5" y2="1455" stroke="#223" stroke-width="1.2" opacity="0.22"/>
<line x1="399.5" x2="399.5" y1="1406.5" y2="1455" stroke="#223" stroke-width="1.2" opacity="0.22"/>
<line x1="406.1" x2="406.1" y1="1406.5" y2="1455" stroke="#223" stroke-width="1.2" opacity="0.22"/>
<line x1="412.6" x2="412.6" y1="1406.5" y2="1455" stroke="#223" stroke-width="1.2" opacity="0.22"/>
<line x1="419.1" x2="419.1" y1="1406.5" y2="1455" stroke="#223" stroke-width="1.2" opacity="0.22"/>
<line x1="425.6" x2="425.6" y1="1406.5" y2="1455" stroke="#223" stroke-width="1.2" opacity="0.22"/>
<line x1="432.1" x2="432.1" y1="1406.5" y2="1455" stroke="#223" stroke-width="1.2" opacity="0.22"/>
<line x1="438.6" x2="438.6" y1="1406.5" y2="1455" stroke="#223" stroke-width="1.2" opacity="0.22"/>
<line x1="445.1" x2="445.1" y1="1406.5" y2="1455" stroke="#223" stroke-width="1.2" opacity="0.22"/>
<line x1="451.6" x2="451.6" y1="1406.5" y2="1455" stroke="#223" stroke-width="1.2" opacity="0.22"/>
<line x1="458.1" x2="458.1" y1="1406.5" y2="1455" stroke="#223" stroke-width="1.2" opacity="0.22"/>
<line x1="464.6" x2="464.6" y1="1406.5" y2="1455" stroke="#223" stroke-width="1.2" opacity="0.22"/>
<line x1="471.1" x2="471.1" y1="1406.5" y2="1455" stroke="#223" stroke-width="1.2" opacity="0.22"/>
<line x1="477.6" x2="477.6" y1="1406.5" y2="1455" stroke="#223" stroke-width="1.2" opacity="0.22"/>
<line x1="484.1" x2="484.1" y1="1406.5" y2="1455" stroke="#223" stroke-width="1.2" opacity="0.22"/>
<line x1="490.7" x2="490.7" y1="1406.5" y2="1455" stroke="#223" stroke-width="1.2" opacity="0.22"/>
<line x1="497.2" x2="497.2" y1="1406.5" y2="1455" stroke="#223" stroke-width="1.2" opacity="0.22"/>
<line x1="503.7" x2="503.7" y1="1406.5" y2="1455" stroke="#223" stroke-width="1.2" opacity="0.22"/>
<line x1="510.2" x2="510.2" y1="1406.5" y2="1455" stroke="#223" stroke-width="1.2" opacity="0.22"/>
<line x1="516.7" x2="516.7" y1="1406.5" y2="1455" stroke="#223" stroke-width="1.2" opacity="0.22"/>
<line x1="523.2" x2="523.2" y1="1406.5" y2="1455" stroke="#223" stroke-width="1.2" opacity="0.22"/>
<line x1="529.7" x2="529.7" y1="1406.5" y2="1455" stroke="#223" stroke-width="1.2" opacity="0.22"/>
<line x1="536.2" x2="536.2" y1="1406.5" y2="1455" stroke="#223" stroke-width="1.2" opacity="0.22"/>
<line x1="542.7" x2="542.7" y1="1406.5" y2="1455" stroke="#223" stroke-width="1.2" opacity="0.22"/>
<line x1="549.2" x2="549.2" y1="1406.5" y2="1455" stroke="#223" stroke-width="1.2" opacity="0.22"/>
<line x1="555.7" x2="555.7" y1="1406.5" y2="1455" stroke="#223" stroke-width="1.2" opacity="0.22"/>
<line x1="562.2" x2="562.2" y1="1406.5" y2="1455" stroke="#223" stroke-width="1.2" opacity="0.22"/>
<line x1="568.8" x2="568.8" y1="1406.5" y2="1455" stroke="#223" stroke-width="1.2" opacity="0.22"/>
<line x1="575.3" x2="575.3" y1="1406.5" y2="1455" stroke="#223" stroke-width="1.2" opacity="0.22"/>
<line x1="581.8" x2="581.8" y1="1406.5" y2="1455" stroke="#223" stroke-width="1.2" opacity="0.22"/>
<line x1="588.3" x2="588.3" y1="1406.5" y2="1455" stroke="#223" stroke-width="1.2" opacity="0.22"/>
<line x1="594.8" x2="594.8" y1="1406.5" y2="1455" stroke="#223" stroke-width="1.2" opacity="0.22"/>
<line x1="601.3" x2="601.3" y1="1406.5" y2="1455" stroke="#223" stroke-width="1.2" opacity="0.22"/>
<line x1="607.8" x2="607.8" y1="1406.5" y2="1455" stroke="#223" stroke-width="1.2" opacity="0.22"/>
<line x1="614.3" x2="614.3" y1="1406.5" y2="1455" stroke="#223" stroke-width="1.2" opacity="0.22"/>
<line x1="620.8" x2="620.8" y1="1406.5" y2="1455" stroke="#223" stroke-width="1.2" opacity="0.22"/>
<line x1="627.3" x2="627.3" y1="1406.5" y2="1455" stroke="#223" stroke-width="1.2" opacity="0.22"/>
<line x1="633.8" x2="633.8" y1="1406.5" y2="1455" stroke="#223" stroke-width="1.2" opacity="0.22"/>
<line x1="640.4" x2="640.4" y1="1406.5" y2="1455" stroke="#223" stroke-width="1.2" opacity="0.22"/>
<line x1="646.9" x2="646.9" y1="1406.5" y2="1455" stroke="#223" stroke-width="1.2" opacity="0.22"/>
<line x1="653.4" x2="653.4" y1="1406.5" y2="1455" stroke="#223" stroke-width="1.2" opacity="0.22"/>
<line x1="659.9" x2="659.9" y1="1406.5" y2="1455" stroke="#223" stroke-width="1.2" opacity="0.22"/>
<line x1="666.4" x2="666.4" y1="1406.5" y2="1455" stroke="#223" stroke-width="1.2" opacity="0.22"/>
<line x1="672.9" x2="672.9" y1="1406.5" y2="1455" stroke="#223" stroke-width="1.2" opacity="0.22"/>
<line x1="679.4" x2="679.4" y1="1406.5" y2="1455" stroke="#223" stroke-width="1.2" opacity="0.22"/>
<line x1="685.9" x2="685.9" y1="1406.5" y2="1455" stroke="#223" stroke-width="1.2" opacity="0.22"/>
<line x1="692.4" x2="692.4" y1="1406.5" y2="1455" stroke="#223" stroke-width="1.2" opacity="0.22"/>
<line x1="698.9" x2="698.9" y1="1406.5" y2="1455" stroke="#223" stroke-width="1.2" opacity="0.22"/>
<line x1="705.4" x2="705.4" y1="1406.5" y2="1455" stroke="#223" stroke-width="1.2" opacity="0.22"/>
<line x1="711.9" x2="711.9" y1="1406.5" y2="1455" stroke="#223" stroke-width="1.2" opacity="0.22"/>
<line x1="718.5" x2="718.5" y1="1406.5" y2="1455" stroke="#223" stroke-width="1.2" opacity="0.22"/>
<line x1="725.0" x2="725.0" y1="1406.5" y2="1455" stroke="#223" stroke-width="1.2" opacity="0.22"/>
<line x1="731.5" x2="731.5" y1="1406.5" y2="1455" stroke="#223" stroke-width="1.2" opacity="0.22"/>
<line x1="738.0" x2="738.0" y1="1406.5" y2="1455" stroke="#223" stroke-width="1.2" opacity="0.22"/>
<line x1="744.5" x2="744.5" y1="1406.5" y2="1455" stroke="#223" stroke-width="1.2" opacity="0.22"/>
<line x1="751.0" x2="751.0" y1="1406.5" y2="1455" stroke="#223" stroke-width="1.2" opacity="0.22"/>
<line x1="464.6" x2="464.6" y1="1439.5" y2="1456" stroke="#222" stroke-width="2.8"/>
<line x1="562.2" x2="562.2" y1="1439.5" y2="1456" stroke="#222" stroke-width="2.8"/>
<line x1="659.9" x2="659.9" y1="1439.5" y2="1456" stroke="#222" stroke-width="2.8"/>
<text x="368.0" y="1499.5" font-size="28.5" text-anchor="middle" style="stroke-width:1.3">−2</text>
<text x="462.5" y="1499.5" font-size="28.5" text-anchor="middle" style="stroke-width:1.3">−1</text>
<text x="562.0" y="1499.5" font-size="28.5" text-anchor="middle" style="stroke-width:1.3">0</text>
<text x="658.5" y="1499.5" font-size="28.5" text-anchor="middle" style="stroke-width:1.3">1</text>
<text x="756.0" y="1499.5" font-size="28.5" text-anchor="middle" style="stroke-width:1.3">2</text>
<g class="gb">
<rect x="1412.10" y="441.50" width="43.44" height="37.74" fill="#fff4f4"/>
<rect x="1455.54" y="441.50" width="43.44" height="37.74" fill="#ffeae8"/>
<rect x="1498.99" y="441.50" width="43.44" height="37.74" fill="#768bfb"/>
<rect x="1542.43" y="441.50" width="43.44" height="37.74" fill="#fff9f8"/>
<rect x="1585.88" y="441.50" width="43.44" height="37.74" fill="#3856f9"/>
<rect x="1629.32" y="441.50" width="43.44" height="37.74" fill="#ffe6e4"/>
<rect x="1672.76" y="441.50" width="43.44" height="37.74" fill="#2b4cf9"/>
<rect x="1716.21" y="441.50" width="43.44" height="37.74" fill="#b4c0fd"/>
<rect x="1759.65" y="441.50" width="43.44" height="37.74" fill="#adb9fd"/>
<rect x="1803.09" y="441.50" width="43.44" height="37.74" fill="#7187fb"/>
<rect x="1846.54" y="441.50" width="43.44" height="37.74" fill="#5d76fa"/>
<rect x="1889.98" y="441.50" width="43.44" height="37.74" fill="#a8b5fd"/>
<rect x="1933.42" y="441.50" width="43.44" height="37.74" fill="#ffdfdd"/>
<rect x="1976.87" y="441.50" width="43.44" height="37.74" fill="#ffe4e1"/>
<rect x="2020.31" y="441.50" width="43.44" height="37.74" fill="#ffc0ba"/>
<rect x="2063.76" y="441.50" width="43.44" height="37.74" fill="#94a4fc"/>
<rect x="1412.10" y="479.24" width="43.44" height="37.74" fill="#ffecea"/>
<rect x="1455.54" y="479.24" width="43.44" height="37.74" fill="#ffeeed"/>
<rect x="1498.99" y="479.24" width="43.44" height="37.74" fill="#a8b5fd"/>
<rect x="1542.43" y="479.24" width="43.44" height="37.74" fill="#fffbfa"/>
<rect x="1585.88" y="479.24" width="43.44" height="37.74" fill="#9babfc"/>
<rect x="1629.32" y="479.24" width="43.44" height="37.74" fill="#fff7f6"/>
<rect x="1672.76" y="479.24" width="43.44" height="37.74" fill="#fffdfd"/>
<rect x="1716.21" y="479.24" width="43.44" height="37.74" fill="#bcc6fd"/>
<rect x="1759.65" y="479.24" width="43.44" height="37.74" fill="#ffffff"/>
<rect x="1803.09" y="479.24" width="43.44" height="37.74" fill="#fffbfa"/>
<rect x="1846.54" y="479.24" width="43.44" height="37.74" fill="#ffceca"/>
<rect x="1889.98" y="479.24" width="43.44" height="37.74" fill="#ffeeed"/>
<rect x="1933.42" y="479.24" width="43.44" height="37.74" fill="#fffdfd"/>
<rect x="1976.87" y="479.24" width="43.44" height="37.74" fill="#ffeeed"/>
<rect x="2020.31" y="479.24" width="43.44" height="37.74" fill="#ffcac6"/>
<rect x="2063.76" y="479.24" width="43.44" height="37.74" fill="#cdd5fe"/>
<rect x="1412.10" y="516.97" width="43.44" height="37.74" fill="#062cf8"/>
<rect x="1455.54" y="516.97" width="43.44" height="37.74" fill="#062cf8"/>
<rect x="1498.99" y="516.97" width="43.44" height="37.74" fill="#1237f8"/>
<rect x="1542.43" y="516.97" width="43.44" height="37.74" fill="#173bf8"/>
<rect x="1585.88" y="516.97" width="43.44" height="37.74" fill="#0d32f8"/>
<rect x="1629.32" y="516.97" width="43.44" height="37.74" fill="#1f41f9"/>
<rect x="1672.76" y="516.97" width="43.44" height="37.74" fill="#1a3df9"/>
<rect x="1716.21" y="516.97" width="43.44" height="37.74" fill="#062cf8"/>
<rect x="1759.65" y="516.97" width="43.44" height="37.74" fill="#062cf8"/>
<rect x="1803.09" y="516.97" width="43.44" height="37.74" fill="#1539f8"/>
<rect x="1846.54" y="516.97" width="43.44" height="37.74" fill="#062cf8"/>
<rect x="1889.98" y="516.97" width="43.44" height="37.74" fill="#5d76fa"/>
<rect x="1933.42" y="516.97" width="43.44" height="37.74" fill="#1f41f9"/>
<rect x="1976.87" y="516.97" width="43.44" height="37.74" fill="#062cf8"/>
<rect x="2020.31" y="516.97" width="43.44" height="37.74" fill="#ffdbd8"/>
<rect x="2063.76" y="516.97" width="43.44" height="37.74" fill="#062cf8"/>
<rect x="1412.10" y="554.71" width="43.44" height="37.74" fill="#ffeeed"/>
<rect x="1455.54" y="554.71" width="43.44" height="37.74" fill="#ff968c"/>
<rect x="1498.99" y="554.71" width="43.44" height="37.74" fill="#ffdbd8"/>
<rect x="1542.43" y="554.71" width="43.44" height="37.74" fill="#ffccc8"/>
<rect x="1585.88" y="554.71" width="43.44" height="37.74" fill="#ffe6e4"/>
<rect x="1629.32" y="554.71" width="43.44" height="37.74" fill="#ffc0ba"/>
<rect x="1672.76" y="554.71" width="43.44" height="37.74" fill="#ffd7d3"/>
<rect x="1716.21" y="554.71" width="43.44" height="37.74" fill="#ffc0ba"/>
<rect x="1759.65" y="554.71" width="43.44" height="37.74" fill="#ffd5d1"/>
<rect x="1803.09" y="554.71" width="43.44" height="37.74" fill="#fff2f1"/>
<rect x="1846.54" y="554.71" width="43.44" height="37.74" fill="#879afc"/>
<rect x="1889.98" y="554.71" width="43.44" height="37.74" fill="#ffb7b1"/>
<rect x="1933.42" y="554.71" width="43.44" height="37.74" fill="#ffc4bf"/>
<rect x="1976.87" y="554.71" width="43.44" height="37.74" fill="#ffd1cd"/>
<rect x="2020.31" y="554.71" width="43.44" height="37.74" fill="#ff675a"/>
<rect x="2063.76" y="554.71" width="43.44" height="37.74" fill="#fff0ef"/>
<rect x="1412.10" y="592.45" width="43.44" height="37.74" fill="#062cf8"/>
<rect x="1455.54" y="592.45" width="43.44" height="37.74" fill="#062cf8"/>
<rect x="1498.99" y="592.45" width="43.44" height="37.74" fill="#062cf8"/>
<rect x="1542.43" y="592.45" width="43.44" height="37.74" fill="#062cf8"/>
<rect x="1585.88" y="592.45" width="43.44" height="37.74" fill="#062cf8"/>
<rect x="1629.32" y="592.45" width="43.44" height="37.74" fill="#062cf8"/>
<rect x="1672.76" y="592.45" width="43.44" height="37.74" fill="#2b4cf9"/>
<rect x="1716.21" y="592.45" width="43.44" height="37.74" fill="#062cf8"/>
<rect x="1759.65" y="592.45" width="43.44" height="37.74" fill="#062cf8"/>
<rect x="1803.09" y="592.45" width="43.44" height="37.74" fill="#062cf8"/>
<rect x="1846.54" y="592.45" width="43.44" height="37.74" fill="#d5dbfe"/>
<rect x="1889.98" y="592.45" width="43.44" height="37.74" fill="#062cf8"/>
<rect x="1933.42" y="592.45" width="43.44" height="37.74" fill="#062cf8"/>
<rect x="1976.87" y="592.45" width="43.44" height="37.74" fill="#062cf8"/>
<rect x="2020.31" y="592.45" width="43.44" height="37.74" fill="#062cf8"/>
<rect x="2063.76" y="592.45" width="43.44" height="37.74" fill="#062cf8"/>
<rect x="1412.10" y="630.18" width="43.44" height="37.74" fill="#c8d1fd"/>
<rect x="1455.54" y="630.18" width="43.44" height="37.74" fill="#ffdfdd"/>
<rect x="1498.99" y="630.18" width="43.44" height="37.74" fill="#fff0ef"/>
<rect x="1542.43" y="630.18" width="43.44" height="37.74" fill="#a0affc"/>
<rect x="1585.88" y="630.18" width="43.44" height="37.74" fill="#062cf8"/>
<rect x="1629.32" y="630.18" width="43.44" height="37.74" fill="#ffe1df"/>
<rect x="1672.76" y="630.18" width="43.44" height="37.74" fill="#91a2fc"/>
<rect x="1716.21" y="630.18" width="43.44" height="37.74" fill="#062cf8"/>
<rect x="1759.65" y="630.18" width="43.44" height="37.74" fill="#4965fa"/>
<rect x="1803.09" y="630.18" width="43.44" height="37.74" fill="#fff9f8"/>
<rect x="1846.54" y="630.18" width="43.44" height="37.74" fill="#fff7f6"/>
<rect x="1889.98" y="630.18" width="43.44" height="37.74" fill="#062cf8"/>
<rect x="1933.42" y="630.18" width="43.44" height="37.74" fill="#ffeeed"/>
<rect x="1976.87" y="630.18" width="43.44" height="37.74" fill="#fffdfd"/>
<rect x="2020.31" y="630.18" width="43.44" height="37.74" fill="#ff2c1a"/>
<rect x="2063.76" y="630.18" width="43.44" height="37.74" fill="#5d76fa"/>
<rect x="1412.10" y="667.92" width="43.44" height="37.74" fill="#062cf8"/>
<rect x="1455.54" y="667.92" width="43.44" height="37.74" fill="#3d5afa"/>
<rect x="1498.99" y="667.92" width="43.44" height="37.74" fill="#062cf8"/>
<rect x="1542.43" y="667.92" width="43.44" height="37.74" fill="#062cf8"/>
<rect x="1585.88" y="667.92" width="43.44" height="37.74" fill="#2b4cf9"/>
<rect x="1629.32" y="667.92" width="43.44" height="37.74" fill="#6a80fb"/>
<rect x="1672.76" y="667.92" width="43.44" height="37.74" fill="#2b4cf9"/>
<rect x="1716.21" y="667.92" width="43.44" height="37.74" fill="#062cf8"/>
<rect x="1759.65" y="667.92" width="43.44" height="37.74" fill="#3d5afa"/>
<rect x="1803.09" y="667.92" width="43.44" height="37.74" fill="#3856f9"/>
<rect x="1846.54" y="667.92" width="43.44" height="37.74" fill="#062cf8"/>
<rect x="1889.98" y="667.92" width="43.44" height="37.74" fill="#062cf8"/>
<rect x="1933.42" y="667.92" width="43.44" height="37.74" fill="#062cf8"/>
<rect x="1976.87" y="667.92" width="43.44" height="37.74" fill="#2b4cf9"/>
<rect x="2020.31" y="667.92" width="43.44" height="37.74" fill="#062cf8"/>
<rect x="2063.76" y="667.92" width="43.44" height="37.74" fill="#062cf8"/>
<rect x="1412.10" y="705.65" width="43.44" height="37.74" fill="#ffc4bf"/>
<rect x="1455.54" y="705.65" width="43.44" height="37.74" fill="#c8d1fd"/>
<rect x="1498.99" y="705.65" width="43.44" height="37.74" fill="#ffffff"/>
<rect x="1542.43" y="705.65" width="43.44" height="37.74" fill="#062cf8"/>
<rect x="1585.88" y="705.65" width="43.44" height="37.74" fill="#3856f9"/>
<rect x="1629.32" y="705.65" width="43.44" height="37.74" fill="#5670fa"/>
<rect x="1672.76" y="705.65" width="43.44" height="37.74" fill="#062cf8"/>
<rect x="1716.21" y="705.65" width="43.44" height="37.74" fill="#fffbfa"/>
<rect x="1759.65" y="705.65" width="43.44" height="37.74" fill="#062cf8"/>
<rect x="1803.09" y="705.65" width="43.44" height="37.74" fill="#173bf8"/>
<rect x="1846.54" y="705.65" width="43.44" height="37.74" fill="#062cf8"/>
<rect x="1889.98" y="705.65" width="43.44" height="37.74" fill="#ffeae8"/>
<rect x="1933.42" y="705.65" width="43.44" height="37.74" fill="#e6eafe"/>
<rect x="1976.87" y="705.65" width="43.44" height="37.74" fill="#062cf8"/>
<rect x="2020.31" y="705.65" width="43.44" height="37.74" fill="#ffd5d1"/>
<rect x="2063.76" y="705.65" width="43.44" height="37.74" fill="#ffe4e1"/>
<rect x="1412.10" y="743.39" width="43.44" height="37.74" fill="#062cf8"/>
<rect x="1455.54" y="743.39" width="43.44" height="37.74" fill="#0d32f8"/>
<rect x="1498.99" y="743.39" width="43.44" height="37.74" fill="#062cf8"/>
<rect x="1542.43" y="743.39" width="43.44" height="37.74" fill="#062cf8"/>
<rect x="1585.88" y="743.39" width="43.44" height="37.74" fill="#516bfa"/>
<rect x="1629.32" y="743.39" width="43.44" height="37.74" fill="#062cf8"/>
<rect x="1672.76" y="743.39" width="43.44" height="37.74" fill="#3856f9"/>
<rect x="1716.21" y="743.39" width="43.44" height="37.74" fill="#062cf8"/>
<rect x="1759.65" y="743.39" width="43.44" height="37.74" fill="#062cf8"/>
<rect x="1803.09" y="743.39" width="43.44" height="37.74" fill="#2b4cf9"/>
<rect x="1846.54" y="743.39" width="43.44" height="37.74" fill="#8a9cfc"/>
<rect x="1889.98" y="743.39" width="43.44" height="37.74" fill="#a0affc"/>
<rect x="1933.42" y="743.39" width="43.44" height="37.74" fill="#062cf8"/>
<rect x="1976.87" y="743.39" width="43.44" height="37.74" fill="#a0affc"/>
<rect x="2020.31" y="743.39" width="43.44" height="37.74" fill="#062cf8"/>
<rect x="2063.76" y="743.39" width="43.44" height="37.74" fill="#062cf8"/>
<rect x="1412.10" y="781.13" width="43.44" height="37.74" fill="#fffbfa"/>
<rect x="1455.54" y="781.13" width="43.44" height="37.74" fill="#4c67fa"/>
<rect x="1498.99" y="781.13" width="43.44" height="37.74" fill="#3856f9"/>
<rect x="1542.43" y="781.13" width="43.44" height="37.74" fill="#062cf8"/>
<rect x="1585.88" y="781.13" width="43.44" height="37.74" fill="#062cf8"/>
<rect x="1629.32" y="781.13" width="43.44" height="37.74" fill="#768bfb"/>
<rect x="1672.76" y="781.13" width="43.44" height="37.74" fill="#5670fa"/>
<rect x="1716.21" y="781.13" width="43.44" height="37.74" fill="#062cf8"/>
<rect x="1759.65" y="781.13" width="43.44" height="37.74" fill="#062cf8"/>
<rect x="1803.09" y="781.13" width="43.44" height="37.74" fill="#1f41f9"/>
<rect x="1846.54" y="781.13" width="43.44" height="37.74" fill="#ffe4e1"/>
<rect x="1889.98" y="781.13" width="43.44" height="37.74" fill="#062cf8"/>
<rect x="1933.42" y="781.13" width="43.44" height="37.74" fill="#6a80fb"/>
<rect x="1976.87" y="781.13" width="43.44" height="37.74" fill="#7e91fb"/>
<rect x="2020.31" y="781.13" width="43.44" height="37.74" fill="#062cf8"/>
<rect x="2063.76" y="781.13" width="43.44" height="37.74" fill="#062cf8"/>
<rect x="1412.10" y="818.86" width="43.44" height="37.74" fill="#062cf8"/>
<rect x="1455.54" y="818.86" width="43.44" height="37.74" fill="#062cf8"/>
<rect x="1498.99" y="818.86" width="43.44" height="37.74" fill="#cdd5fe"/>
<rect x="1542.43" y="818.86" width="43.44" height="37.74" fill="#3f5dfa"/>
<rect x="1585.88" y="818.86" width="43.44" height="37.74" fill="#062cf8"/>
<rect x="1629.32" y="818.86" width="43.44" height="37.74" fill="#062cf8"/>
<rect x="1672.76" y="818.86" width="43.44" height="37.74" fill="#3856f9"/>
<rect x="1716.21" y="818.86" width="43.44" height="37.74" fill="#fff0ef"/>
<rect x="1759.65" y="818.86" width="43.44" height="37.74" fill="#062cf8"/>
<rect x="1803.09" y="818.86" width="43.44" height="37.74" fill="#5872fa"/>
<rect x="1846.54" y="818.86" width="43.44" height="37.74" fill="#657cfb"/>
<rect x="1889.98" y="818.86" width="43.44" height="37.74" fill="#062cf8"/>
<rect x="1933.42" y="818.86" width="43.44" height="37.74" fill="#062cf8"/>
<rect x="1976.87" y="818.86" width="43.44" height="37.74" fill="#2b4cf9"/>
<rect x="2020.31" y="818.86" width="43.44" height="37.74" fill="#062cf8"/>
<rect x="2063.76" y="818.86" width="43.44" height="37.74" fill="#062cf8"/>
<rect x="1412.10" y="856.60" width="43.44" height="37.74" fill="#062cf8"/>
<rect x="1455.54" y="856.60" width="43.44" height="37.74" fill="#6a80fb"/>
<rect x="1498.99" y="856.60" width="43.44" height="37.74" fill="#062cf8"/>
<rect x="1542.43" y="856.60" width="43.44" height="37.74" fill="#062cf8"/>
<rect x="1585.88" y="856.60" width="43.44" height="37.74" fill="#8296fc"/>
<rect x="1629.32" y="856.60" width="43.44" height="37.74" fill="#a8b5fd"/>
<rect x="1672.76" y="856.60" width="43.44" height="37.74" fill="#657cfb"/>
<rect x="1716.21" y="856.60" width="43.44" height="37.74" fill="#062cf8"/>
<rect x="1759.65" y="856.60" width="43.44" height="37.74" fill="#ebeefe"/>
<rect x="1803.09" y="856.60" width="43.44" height="37.74" fill="#3f5dfa"/>
<rect x="1846.54" y="856.60" width="43.44" height="37.74" fill="#ffeae8"/>
<rect x="1889.98" y="856.60" width="43.44" height="37.74" fill="#fff2f1"/>
<rect x="1933.42" y="856.60" width="43.44" height="37.74" fill="#fffdfd"/>
<rect x="1976.87" y="856.60" width="43.44" height="37.74" fill="#062cf8"/>
<rect x="2020.31" y="856.60" width="43.44" height="37.74" fill="#ffdfdd"/>
<rect x="2063.76" y="856.60" width="43.44" height="37.74" fill="#fff0ef"/>
<rect x="1412.10" y="894.34" width="43.44" height="37.74" fill="#1f41f9"/>
<rect x="1455.54" y="894.34" width="43.44" height="37.74" fill="#062cf8"/>
<rect x="1498.99" y="894.34" width="43.44" height="37.74" fill="#062cf8"/>
<rect x="1542.43" y="894.34" width="43.44" height="37.74" fill="#062cf8"/>
<rect x="1585.88" y="894.34" width="43.44" height="37.74" fill="#062cf8"/>
<rect x="1629.32" y="894.34" width="43.44" height="37.74" fill="#062cf8"/>
<rect x="1672.76" y="894.34" width="43.44" height="37.74" fill="#062cf8"/>
<rect x="1716.21" y="894.34" width="43.44" height="37.74" fill="#062cf8"/>
<rect x="1759.65" y="894.34" width="43.44" height="37.74" fill="#062cf8"/>
<rect x="1803.09" y="894.34" width="43.44" height="37.74" fill="#062cf8"/>
<rect x="1846.54" y="894.34" width="43.44" height="37.74" fill="#d2d9fe"/>
<rect x="1889.98" y="894.34" width="43.44" height="37.74" fill="#062cf8"/>
<rect x="1933.42" y="894.34" width="43.44" height="37.74" fill="#062cf8"/>
<rect x="1976.87" y="894.34" width="43.44" height="37.74" fill="#062cf8"/>
<rect x="2020.31" y="894.34" width="43.44" height="37.74" fill="#062cf8"/>
<rect x="2063.76" y="894.34" width="43.44" height="37.74" fill="#ffe4e1"/>
<rect x="1412.10" y="932.07" width="43.44" height="37.74" fill="#ff5243"/>
<rect x="1455.54" y="932.07" width="43.44" height="37.74" fill="#ffeae8"/>
<rect x="1498.99" y="932.07" width="43.44" height="37.74" fill="#dce1fe"/>
<rect x="1542.43" y="932.07" width="43.44" height="37.74" fill="#ffd1cd"/>
<rect x="1585.88" y="932.07" width="43.44" height="37.74" fill="#ffe6e4"/>
<rect x="1629.32" y="932.07" width="43.44" height="37.74" fill="#fff0ef"/>
<rect x="1672.76" y="932.07" width="43.44" height="37.74" fill="#dfe4fe"/>
<rect x="1716.21" y="932.07" width="43.44" height="37.74" fill="#ffdbd8"/>
<rect x="1759.65" y="932.07" width="43.44" height="37.74" fill="#ffd1cd"/>
<rect x="1803.09" y="932.07" width="43.44" height="37.74" fill="#a0affc"/>
<rect x="1846.54" y="932.07" width="43.44" height="37.74" fill="#ff8076"/>
<rect x="1889.98" y="932.07" width="43.44" height="37.74" fill="#ffc0ba"/>
<rect x="1933.42" y="932.07" width="43.44" height="37.74" fill="#ffe6e4"/>
<rect x="1976.87" y="932.07" width="43.44" height="37.74" fill="#ffd5d1"/>
<rect x="2020.31" y="932.07" width="43.44" height="37.74" fill="#ffb7b1"/>
<rect x="2063.76" y="932.07" width="43.44" height="37.74" fill="#ff7c71"/>
<rect x="1412.10" y="969.81" width="43.44" height="37.74" fill="#ffe8e6"/>
<rect x="1455.54" y="969.81" width="43.44" height="37.74" fill="#062cf8"/>
<rect x="1498.99" y="969.81" width="43.44" height="37.74" fill="#4965fa"/>
<rect x="1542.43" y="969.81" width="43.44" height="37.74" fill="#062cf8"/>
<rect x="1585.88" y="969.81" width="43.44" height="37.74" fill="#062cf8"/>
<rect x="1629.32" y="969.81" width="43.44" height="37.74" fill="#fffdfd"/>
<rect x="1672.76" y="969.81" width="43.44" height="37.74" fill="#062cf8"/>
<rect x="1716.21" y="969.81" width="43.44" height="37.74" fill="#062cf8"/>
<rect x="1759.65" y="969.81" width="43.44" height="37.74" fill="#062cf8"/>
<rect x="1803.09" y="969.81" width="43.44" height="37.74" fill="#5d76fa"/>
<rect x="1846.54" y="969.81" width="43.44" height="37.74" fill="#062cf8"/>
<rect x="1889.98" y="969.81" width="43.44" height="37.74" fill="#062cf8"/>
<rect x="1933.42" y="969.81" width="43.44" height="37.74" fill="#062cf8"/>
<rect x="1976.87" y="969.81" width="43.44" height="37.74" fill="#062cf8"/>
<rect x="2020.31" y="969.81" width="43.44" height="37.74" fill="#ffe1df"/>
<rect x="2063.76" y="969.81" width="43.44" height="37.74" fill="#062cf8"/>
<rect x="1412.10" y="1007.55" width="43.44" height="37.74" fill="#a8b5fd"/>
<rect x="1455.54" y="1007.55" width="43.44" height="37.74" fill="#fffdfd"/>
<rect x="1498.99" y="1007.55" width="43.44" height="37.74" fill="#fff7f6"/>
<rect x="1542.43" y="1007.55" width="43.44" height="37.74" fill="#d2d9fe"/>
<rect x="1585.88" y="1007.55" width="43.44" height="37.74" fill="#fffdfd"/>
<rect x="1629.32" y="1007.55" width="43.44" height="37.74" fill="#ffecea"/>
<rect x="1672.76" y="1007.55" width="43.44" height="37.74" fill="#fff7f6"/>
<rect x="1716.21" y="1007.55" width="43.44" height="37.74" fill="#7489fb"/>
<rect x="1759.65" y="1007.55" width="43.44" height="37.74" fill="#ffffff"/>
<rect x="1803.09" y="1007.55" width="43.44" height="37.74" fill="#ffe6e4"/>
<rect x="1846.54" y="1007.55" width="43.44" height="37.74" fill="#062cf8"/>
<rect x="1889.98" y="1007.55" width="43.44" height="37.74" fill="#fffdfd"/>
<rect x="1933.42" y="1007.55" width="43.44" height="37.74" fill="#ffe6e4"/>
<rect x="1976.87" y="1007.55" width="43.44" height="37.74" fill="#ffd7d3"/>
<rect x="2020.31" y="1007.55" width="43.44" height="37.74" fill="#ff7c71"/>
<rect x="2063.76" y="1007.55" width="43.44" height="37.74" fill="#fffdfd"/>
<rect x="1412.10" y="1045.28" width="43.44" height="37.74" fill="#4461fa"/>
<rect x="1455.54" y="1045.28" width="43.44" height="37.74" fill="#062cf8"/>
<rect x="1498.99" y="1045.28" width="43.44" height="37.74" fill="#062cf8"/>
<rect x="1542.43" y="1045.28" width="43.44" height="37.74" fill="#062cf8"/>
<rect x="1585.88" y="1045.28" width="43.44" height="37.74" fill="#4461fa"/>
<rect x="1629.32" y="1045.28" width="43.44" height="37.74" fill="#516bfa"/>
<rect x="1672.76" y="1045.28" width="43.44" height="37.74" fill="#062cf8"/>
<rect x="1716.21" y="1045.28" width="43.44" height="37.74" fill="#fff7f6"/>
<rect x="1759.65" y="1045.28" width="43.44" height="37.74" fill="#d7ddfe"/>
<rect x="1803.09" y="1045.28" width="43.44" height="37.74" fill="#4461fa"/>
<rect x="1846.54" y="1045.28" width="43.44" height="37.74" fill="#3856f9"/>
<rect x="1889.98" y="1045.28" width="43.44" height="37.74" fill="#fffdfd"/>
<rect x="1933.42" y="1045.28" width="43.44" height="37.74" fill="#8a9cfc"/>
<rect x="1976.87" y="1045.28" width="43.44" height="37.74" fill="#fffbfa"/>
<rect x="2020.31" y="1045.28" width="43.44" height="37.74" fill="#fff4f4"/>
<rect x="2063.76" y="1045.28" width="43.44" height="37.74" fill="#3d5afa"/>
<rect x="1412.10" y="1083.02" width="43.44" height="37.74" fill="#062cf8"/>
<rect x="1455.54" y="1083.02" width="43.44" height="37.74" fill="#2445f9"/>
<rect x="1498.99" y="1083.02" width="43.44" height="37.74" fill="#7489fb"/>
<rect x="1542.43" y="1083.02" width="43.44" height="37.74" fill="#a8b5fd"/>
<rect x="1585.88" y="1083.02" width="43.44" height="37.74" fill="#4461fa"/>
<rect x="1629.32" y="1083.02" width="43.44" height="37.74" fill="#516bfa"/>
<rect x="1672.76" y="1083.02" width="43.44" height="37.74" fill="#6a80fb"/>
<rect x="1716.21" y="1083.02" width="43.44" height="37.74" fill="#3856f9"/>
<rect x="1759.65" y="1083.02" width="43.44" height="37.74" fill="#062cf8"/>
<rect x="1803.09" y="1083.02" width="43.44" height="37.74" fill="#062cf8"/>
<rect x="1846.54" y="1083.02" width="43.44" height="37.74" fill="#eef0ff"/>
<rect x="1889.98" y="1083.02" width="43.44" height="37.74" fill="#6a80fb"/>
<rect x="1933.42" y="1083.02" width="43.44" height="37.74" fill="#627afb"/>
<rect x="1976.87" y="1083.02" width="43.44" height="37.74" fill="#062cf8"/>
<rect x="2020.31" y="1083.02" width="43.44" height="37.74" fill="#ffd5d1"/>
<rect x="2063.76" y="1083.02" width="43.44" height="37.74" fill="#2b4cf9"/>
<rect x="1412.10" y="1120.75" width="43.44" height="37.74" fill="#062cf8"/>
<rect x="1455.54" y="1120.75" width="43.44" height="37.74" fill="#062cf8"/>
<rect x="1498.99" y="1120.75" width="43.44" height="37.74" fill="#062cf8"/>
<rect x="1542.43" y="1120.75" width="43.44" height="37.74" fill="#4461fa"/>
<rect x="1585.88" y="1120.75" width="43.44" height="37.74" fill="#062cf8"/>
<rect x="1629.32" y="1120.75" width="43.44" height="37.74" fill="#062cf8"/>
<rect x="1672.76" y="1120.75" width="43.44" height="37.74" fill="#062cf8"/>
<rect x="1716.21" y="1120.75" width="43.44" height="37.74" fill="#c1cafd"/>
<rect x="1759.65" y="1120.75" width="43.44" height="37.74" fill="#9babfc"/>
<rect x="1803.09" y="1120.75" width="43.44" height="37.74" fill="#062cf8"/>
<rect x="1846.54" y="1120.75" width="43.44" height="37.74" fill="#062cf8"/>
<rect x="1889.98" y="1120.75" width="43.44" height="37.74" fill="#062cf8"/>
<rect x="1933.42" y="1120.75" width="43.44" height="37.74" fill="#6a80fb"/>
<rect x="1976.87" y="1120.75" width="43.44" height="37.74" fill="#6a80fb"/>
<rect x="2020.31" y="1120.75" width="43.44" height="37.74" fill="#062cf8"/>
<rect x="2063.76" y="1120.75" width="43.44" height="37.74" fill="#7e91fb"/>
<rect x="1412.10" y="1158.49" width="43.44" height="37.74" fill="#fffdfd"/>
<rect x="1455.54" y="1158.49" width="43.44" height="37.74" fill="#ffe6e4"/>
<rect x="1498.99" y="1158.49" width="43.44" height="37.74" fill="#ffffff"/>
<rect x="1542.43" y="1158.49" width="43.44" height="37.74" fill="#ffe1df"/>
<rect x="1585.88" y="1158.49" width="43.44" height="37.74" fill="#fff0ef"/>
<rect x="1629.32" y="1158.49" width="43.44" height="37.74" fill="#fff2f1"/>
<rect x="1672.76" y="1158.49" width="43.44" height="37.74" fill="#fff9f8"/>
<rect x="1716.21" y="1158.49" width="43.44" height="37.74" fill="#fff9f8"/>
<rect x="1759.65" y="1158.49" width="43.44" height="37.74" fill="#ffdbd8"/>
<rect x="1803.09" y="1158.49" width="43.44" height="37.74" fill="#8a9cfc"/>
<rect x="1846.54" y="1158.49" width="43.44" height="37.74" fill="#ffcac6"/>
<rect x="1889.98" y="1158.49" width="43.44" height="37.74" fill="#ffc0ba"/>
<rect x="1933.42" y="1158.49" width="43.44" height="37.74" fill="#fffbfa"/>
<rect x="1976.87" y="1158.49" width="43.44" height="37.74" fill="#ffc4bf"/>
<rect x="2020.31" y="1158.49" width="43.44" height="37.74" fill="#062cf8"/>
<rect x="2063.76" y="1158.49" width="43.44" height="37.74" fill="#fff2f1"/>
<rect x="1412.10" y="1196.23" width="43.44" height="37.74" fill="#ffffff"/>
<rect x="1455.54" y="1196.23" width="43.44" height="37.74" fill="#062cf8"/>
<rect x="1498.99" y="1196.23" width="43.44" height="37.74" fill="#ffdbd8"/>
<rect x="1542.43" y="1196.23" width="43.44" height="37.74" fill="#d7ddfe"/>
<rect x="1585.88" y="1196.23" width="43.44" height="37.74" fill="#fff0ef"/>
<rect x="1629.32" y="1196.23" width="43.44" height="37.74" fill="#ffeae8"/>
<rect x="1672.76" y="1196.23" width="43.44" height="37.74" fill="#fff7f6"/>
<rect x="1716.21" y="1196.23" width="43.44" height="37.74" fill="#ffceca"/>
<rect x="1759.65" y="1196.23" width="43.44" height="37.74" fill="#3856f9"/>
<rect x="1803.09" y="1196.23" width="43.44" height="37.74" fill="#ffeae8"/>
<rect x="1846.54" y="1196.23" width="43.44" height="37.74" fill="#ffd9d6"/>
<rect x="1889.98" y="1196.23" width="43.44" height="37.74" fill="#ffddda"/>
<rect x="1933.42" y="1196.23" width="43.44" height="37.74" fill="#ffe6e4"/>
<rect x="1976.87" y="1196.23" width="43.44" height="37.74" fill="#fffbfa"/>
<rect x="2020.31" y="1196.23" width="43.44" height="37.74" fill="#ff8076"/>
<rect x="2063.76" y="1196.23" width="43.44" height="37.74" fill="#ffffff"/>
<rect x="1412.10" y="1233.96" width="43.44" height="37.74" fill="#1f41f9"/>
<rect x="1455.54" y="1233.96" width="43.44" height="37.74" fill="#062cf8"/>
<rect x="1498.99" y="1233.96" width="43.44" height="37.74" fill="#4461fa"/>
<rect x="1542.43" y="1233.96" width="43.44" height="37.74" fill="#c8d1fd"/>
<rect x="1585.88" y="1233.96" width="43.44" height="37.74" fill="#062cf8"/>
<rect x="1629.32" y="1233.96" width="43.44" height="37.74" fill="#657cfb"/>
<rect x="1672.76" y="1233.96" width="43.44" height="37.74" fill="#eef0ff"/>
<rect x="1716.21" y="1233.96" width="43.44" height="37.74" fill="#062cf8"/>
<rect x="1759.65" y="1233.96" width="43.44" height="37.74" fill="#062cf8"/>
<rect x="1803.09" y="1233.96" width="43.44" height="37.74" fill="#7e91fb"/>
<rect x="1846.54" y="1233.96" width="43.44" height="37.74" fill="#062cf8"/>
<rect x="1889.98" y="1233.96" width="43.44" height="37.74" fill="#6a80fb"/>
<rect x="1933.42" y="1233.96" width="43.44" height="37.74" fill="#ffffff"/>
<rect x="1976.87" y="1233.96" width="43.44" height="37.74" fill="#fffbfa"/>
<rect x="2020.31" y="1233.96" width="43.44" height="37.74" fill="#ffeeed"/>
<rect x="2063.76" y="1233.96" width="43.44" height="37.74" fill="#062cf8"/>
</g>
<line x1="1394.5" x2="1412" y1="460.4" y2="460.4" stroke="#000" stroke-width="3.8"/>
<text class="b" transform="translate(1393.5,471.4) scale(1.045,1)" font-size="31" text-anchor="end">Macrophages M1</text>
<line x1="1394.5" x2="1412" y1="498.1" y2="498.1" stroke="#000" stroke-width="3.8"/>
<text class="b" transform="translate(1393.5,509.1) scale(1.045,1)" font-size="31" text-anchor="end">NK cells resting</text>
<line x1="1394.5" x2="1412" y1="535.8" y2="535.8" stroke="#000" stroke-width="3.8"/>
<text class="b" transform="translate(1393.5,546.8) scale(1.045,1)" font-size="31" text-anchor="end">Plasma cells</text>
<line x1="1394.5" x2="1412" y1="573.6" y2="573.6" stroke="#000" stroke-width="3.8"/>
<text class="b" transform="translate(1393.5,584.6) scale(1.045,1)" font-size="31" text-anchor="end">Macrophages M2</text>
<line x1="1394.5" x2="1412" y1="611.3" y2="611.3" stroke="#000" stroke-width="3.8"/>
<text class="b" transform="translate(1393.5,622.3) scale(1.045,1)" font-size="31" text-anchor="end">Dendritic cells activated</text>
<line x1="1394.5" x2="1412" y1="649.1" y2="649.1" stroke="#000" stroke-width="3.8"/>
<text class="b" transform="translate(1393.5,660.1) scale(1.045,1)" font-size="31" text-anchor="end">T cells CD4 memory activated</text>
<line x1="1394.5" x2="1412" y1="686.8" y2="686.8" stroke="#000" stroke-width="3.8"/>
<text class="b" transform="translate(1393.5,697.8) scale(1.045,1)" font-size="31" text-anchor="end">Dendritic cells resting</text>
<line x1="1394.5" x2="1412" y1="724.5" y2="724.5" stroke="#000" stroke-width="3.8"/>
<text class="b" transform="translate(1393.5,735.5) scale(1.045,1)" font-size="31" text-anchor="end">T cells CD4 naive</text>
<line x1="1394.5" x2="1412" y1="762.3" y2="762.3" stroke="#000" stroke-width="3.8"/>
<text class="b" transform="translate(1393.5,773.3) scale(1.045,1)" font-size="31" text-anchor="end">Eosinophils</text>
<line x1="1394.5" x2="1412" y1="800.0" y2="800.0" stroke="#000" stroke-width="3.8"/>
<text class="b" transform="translate(1393.5,811.0) scale(1.045,1)" font-size="31" text-anchor="end">Neutrophils</text>
<line x1="1394.5" x2="1412" y1="837.7" y2="837.7" stroke="#000" stroke-width="3.8"/>
<text class="b" transform="translate(1393.5,848.7) scale(1.045,1)" font-size="31" text-anchor="end">Mast cells activated</text>
<line x1="1394.5" x2="1412" y1="875.5" y2="875.5" stroke="#000" stroke-width="3.8"/>
<text class="b" transform="translate(1393.5,886.5) scale(1.045,1)" font-size="31" text-anchor="end">Mast cells resting</text>
<line x1="1394.5" x2="1412" y1="913.2" y2="913.2" stroke="#000" stroke-width="3.8"/>
<text class="b" transform="translate(1393.5,924.2) scale(1.045,1)" font-size="31" text-anchor="end">B cells memory</text>
<line x1="1394.5" x2="1412" y1="950.9" y2="950.9" stroke="#000" stroke-width="3.8"/>
<text class="b" transform="translate(1393.5,961.9) scale(1.045,1)" font-size="31" text-anchor="end">Monocytes</text>
<line x1="1394.5" x2="1412" y1="988.7" y2="988.7" stroke="#000" stroke-width="3.8"/>
<text class="b" transform="translate(1393.5,999.7) scale(1.045,1)" font-size="31" text-anchor="end">T cells gamma delta</text>
<line x1="1394.5" x2="1412" y1="1026.4" y2="1026.4" stroke="#000" stroke-width="3.8"/>
<text class="b" transform="translate(1393.5,1037.4) scale(1.045,1)" font-size="31" text-anchor="end">B cells naive</text>
<line x1="1394.5" x2="1412" y1="1064.2" y2="1064.2" stroke="#000" stroke-width="3.8"/>
<text class="b" transform="translate(1393.5,1075.2) scale(1.045,1)" font-size="31" text-anchor="end">T cells regulatory (Tregs)</text>
<line x1="1394.5" x2="1412" y1="1101.9" y2="1101.9" stroke="#000" stroke-width="3.8"/>
<text class="b" transform="translate(1393.5,1112.9) scale(1.045,1)" font-size="31" text-anchor="end">T cells CD8</text>
<line x1="1394.5" x2="1412" y1="1139.6" y2="1139.6" stroke="#000" stroke-width="3.8"/>
<text class="b" transform="translate(1393.5,1150.6) scale(1.045,1)" font-size="31" text-anchor="end">NK cells activated</text>
<line x1="1394.5" x2="1412" y1="1177.4" y2="1177.4" stroke="#000" stroke-width="3.8"/>
<text class="b" transform="translate(1393.5,1188.4) scale(1.045,1)" font-size="31" text-anchor="end">T cells CD4 memory resting</text>
<line x1="1394.5" x2="1412" y1="1215.1" y2="1215.1" stroke="#000" stroke-width="3.8"/>
<text class="b" transform="translate(1393.5,1226.1) scale(1.045,1)" font-size="31" text-anchor="end">Macrophages M0</text>
<line x1="1394.5" x2="1412" y1="1252.8" y2="1252.8" stroke="#000" stroke-width="3.8"/>
<text class="b" transform="translate(1393.5,1263.8) scale(1.045,1)" font-size="31" text-anchor="end">T cells follicular helper</text>
<line x1="1433.8" x2="1433.8" y1="424.5" y2="441.5" stroke="#000" stroke-width="3.8"/>
<text class="b" transform="translate(1445.4,423) rotate(-90)" font-size="32.3">52 PDACPre-XRT PD</text>
<line x1="1477.3" x2="1477.3" y1="424.5" y2="441.5" stroke="#000" stroke-width="3.8"/>
<text class="b" transform="translate(1488.9,423) rotate(-90)" font-size="32.3">52 PDACPost-XRT PD</text>
<line x1="1520.7" x2="1520.7" y1="424.5" y2="441.5" stroke="#000" stroke-width="3.8"/>
<text class="b" transform="translate(1532.3,423) rotate(-90)" font-size="32.3">30 CRCPre-XRT PD</text>
<line x1="1564.2" x2="1564.2" y1="424.5" y2="441.5" stroke="#000" stroke-width="3.8"/>
<text class="b" transform="translate(1575.8,423) rotate(-90)" font-size="32.3">30 CRCPost-XRT PD</text>
<line x1="1607.6" x2="1607.6" y1="424.5" y2="441.5" stroke="#000" stroke-width="3.8"/>
<text class="b" transform="translate(1619.2,423) rotate(-90)" font-size="32.3">18 CRCPre-XRT PD</text>
<line x1="1651.0" x2="1651.0" y1="424.5" y2="441.5" stroke="#000" stroke-width="3.8"/>
<text class="b" transform="translate(1662.6,423) rotate(-90)" font-size="32.3">18 CRCPost-XRT PD</text>
<line x1="1694.5" x2="1694.5" y1="424.5" y2="441.5" stroke="#000" stroke-width="3.8"/>
<text class="b" transform="translate(1706.1,423) rotate(-90)" font-size="32.3">3 PDACPre-XRT PD</text>
<line x1="1737.9" x2="1737.9" y1="424.5" y2="441.5" stroke="#000" stroke-width="3.8"/>
<text class="b" transform="translate(1749.5,423) rotate(-90)" font-size="32.3">3 PDACPost-XRT PD</text>
<line x1="1781.4" x2="1781.4" y1="424.5" y2="441.5" stroke="#000" stroke-width="3.8"/>
<text class="b" transform="translate(1793.0,423) rotate(-90)" font-size="32.3">12 CRCPre-XRT PD</text>
<line x1="1824.8" x2="1824.8" y1="424.5" y2="441.5" stroke="#000" stroke-width="3.8"/>
<text class="b" transform="translate(1836.4,423) rotate(-90)" font-size="32.3">12 CRCPost-XRT PD</text>
<line x1="1868.3" x2="1868.3" y1="424.5" y2="441.5" stroke="#000" stroke-width="3.8"/>
<text class="b" transform="translate(1879.9,423) rotate(-90)" font-size="32.3">50 PDACPre-XRT SD</text>
<line x1="1911.7" x2="1911.7" y1="424.5" y2="441.5" stroke="#000" stroke-width="3.8"/>
<text class="b" transform="translate(1923.3,423) rotate(-90)" font-size="32.3">50 PDACPost-XRT SD</text>
<line x1="1955.1" x2="1955.1" y1="424.5" y2="441.5" stroke="#000" stroke-width="3.8"/>
<text class="b" transform="translate(1966.7,423) rotate(-90)" font-size="32.3">33 PDACPre-XRT PR/CR</text>
<line x1="1998.6" x2="1998.6" y1="424.5" y2="441.5" stroke="#000" stroke-width="3.8"/>
<text class="b" transform="translate(2010.2,423) rotate(-90)" font-size="32.3">33 PDACPost-XRT PR/CR</text>
<line x1="2042.0" x2="2042.0" y1="424.5" y2="441.5" stroke="#000" stroke-width="3.8"/>
<text class="b" transform="translate(2053.6,423) rotate(-90)" font-size="32.3">4 CRCPre-XRT PR/CR</text>
<line x1="2085.5" x2="2085.5" y1="424.5" y2="441.5" stroke="#000" stroke-width="3.8"/>
<text class="b" transform="translate(2097.1,423) rotate(-90)" font-size="32.3">4 CRCPost-XRT PR/CR</text>
<rect x="1410.5" y="1313.5" width="698" height="43" fill="url(#gb)" stroke="#000" stroke-width="4.2"/>
<line x1="1620.0" x2="1620.0" y1="1313" y2="1321" stroke="#000" stroke-width="3.8"/>
<line x1="1620.0" x2="1620.0" y1="1349" y2="1357" stroke="#000" stroke-width="3.8"/>
<line x1="1828.5" x2="1828.5" y1="1313" y2="1321" stroke="#000" stroke-width="3.8"/>
<line x1="1828.5" x2="1828.5" y1="1349" y2="1357" stroke="#000" stroke-width="3.8"/>
<line x1="2037.0" x2="2037.0" y1="1313" y2="1321" stroke="#000" stroke-width="3.8"/>
<line x1="2037.0" x2="2037.0" y1="1349" y2="1357" stroke="#000" stroke-width="3.8"/>
<text class="b" transform="translate(1412.0,1401) scale(1.03,1)" font-size="31" text-anchor="middle">0</text>
<text class="b" transform="translate(1620.0,1401) scale(1.03,1)" font-size="31" text-anchor="middle">0.5</text>
<text class="b" transform="translate(1828.5,1401) scale(1.03,1)" font-size="31" text-anchor="middle">1.0</text>
<text class="b" transform="translate(2037.0,1401) scale(1.03,1)" font-size="31" text-anchor="middle">1.5</text>
</g></svg></body></html>
